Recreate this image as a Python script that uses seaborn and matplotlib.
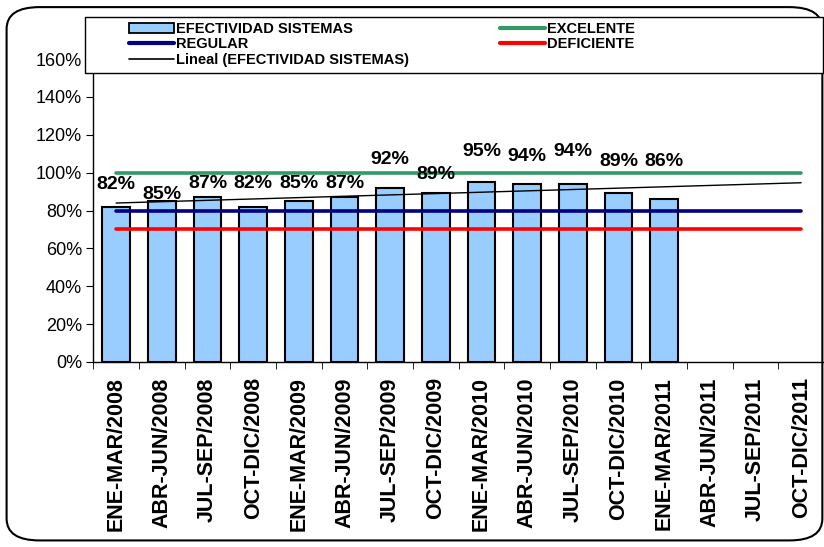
import numpy as np
import pandas as pd
import matplotlib
matplotlib.use('Agg')
import matplotlib.pyplot as plt
import seaborn as sns
from matplotlib.patches import FancyBboxPatch, Rectangle, Patch
from matplotlib.lines import Line2D

# Data
periods = ['ENE-MAR/2008', 'ABR-JUN/2008', 'JUL-SEP/2008', 'OCT-DIC/2008',
           'ENE-MAR/2009', 'ABR-JUN/2009', 'JUL-SEP/2009', 'OCT-DIC/2009',
           'ENE-MAR/2010', 'ABR-JUN/2010', 'JUL-SEP/2010', 'OCT-DIC/2010',
           'ENE-MAR/2011', 'ABR-JUN/2011', 'JUL-SEP/2011', 'OCT-DIC/2011']
efectividad = [0.82, 0.85, 0.87, 0.82, 0.85, 0.87, 0.92, 0.89,
               0.95, 0.94, 0.94, 0.89, 0.86, np.nan, np.nan, np.nan]
excelente = 1.00
regular = 0.80
deficiente = 0.70

# label offsets above bars (Excel placed them unevenly)
label_offsets = [0.115, 0.035, 0.07, 0.125, 0.095, 0.075, 0.15, 0.10,
                 0.16, 0.145, 0.17, 0.17, 0.20]

df = pd.DataFrame({'periodo': periods, 'efectividad': efectividad})

sns.set_style('white')
plt.rcParams['font.family'] = ['Liberation Sans', 'DejaVu Sans']
plt.rcParams['text.color'] = 'black'
plt.rcParams['xtick.color'] = 'black'
plt.rcParams['ytick.color'] = 'black'

fig = plt.figure(figsize=(8.24, 5.47), dpi=100)
ax = fig.add_axes([93.3 / 824, 1 - 362 / 547, (824 - 93.3) / 824, 303 / 547])

sns.barplot(data=df, x='periodo', y='efectividad', order=periods,
            color='#99CCFF', edgecolor='black', linewidth=1.5,
            width=0.6, saturation=1, ax=ax)

xs = np.arange(len(periods))
ax.plot(xs, [excelente] * len(xs), color='#339966', lw=2.6, zorder=3)
ax.plot(xs, [regular] * len(xs), color='#000080', lw=2.6, zorder=3)
ax.plot(xs, [deficiente] * len(xs), color='#FF0000', lw=2.6, zorder=3)

# linear trend
vals = np.array(efectividad)
mask = ~np.isnan(vals)
coef = np.polyfit(xs[mask], vals[mask], 1)
ax.plot(xs, np.polyval(coef, xs), color='black', lw=1.0, zorder=4)

for i, v in enumerate(vals[mask]):
    ax.text(i, v + label_offsets[i], f'{v * 100:.0f}%', ha='center', va='center',
            fontsize=14, fontweight='bold', zorder=5)

ax.set_xlim(-0.5, len(periods) - 0.5)
ax.set_ylim(0, 1.6)
yt = np.arange(0, 1.61, 0.2)
ax.set_yticks(yt)
ax.set_yticklabels([f'{int(round(t * 100))}%' for t in yt], fontsize=13)
ax.set_xticks(xs)
ax.set_xticklabels(periods, rotation=90, fontsize=15.5, fontweight='bold')
ax.set_xticks(np.arange(-0.5, len(periods), 1), minor=True)
ax.tick_params(axis='x', which='major', length=0, pad=11)
ax.tick_params(axis='x', which='minor', length=5, direction='out', color='black', bottom=True)
ax.tick_params(axis='y', length=5, direction='out', color='black', left=True, pad=3)
ax.set_xlabel('')
ax.set_ylabel('')
for s in ['top', 'right']:
    ax.spines[s].set_visible(False)
for s in ['left', 'bottom']:
    ax.spines[s].set_color('black')
    ax.spines[s].set_linewidth(1.0)

# legend frame
fig.patches.append(Rectangle((85 / 824, 1 - 73 / 547), (823 - 85) / 824, 56 / 547,
                             transform=fig.transFigure, facecolor='white',
                             edgecolor='black', lw=1.0, zorder=10))

leg_kw = dict(loc='upper left', frameon=False, prop={'weight': 'bold', 'size': 10.5},
              handlelength=3.1, handleheight=0.7, labelspacing=0.1, borderpad=0,
              handletextpad=0.15, borderaxespad=0)
leg1 = fig.legend([Patch(facecolor='#99CCFF', edgecolor='black', lw=1.3),
                   Line2D([], [], color='#000080', lw=3),
                   Line2D([], [], color='black', lw=1.2)],
                  ['EFECTIVIDAD SISTEMAS', 'REGULAR', 'Lineal (EFECTIVIDAD SISTEMAS)'],
                  bbox_to_anchor=(129 / 824, 1 - 22 / 547), **leg_kw)
leg2 = fig.legend([Line2D([], [], color='#339966', lw=3),
                   Line2D([], [], color='#FF0000', lw=3)],
                  ['EXCELENTE', 'DEFICIENTE'],
                  bbox_to_anchor=(500 / 824, 1 - 22 / 547), **leg_kw)
leg1.set_zorder(11)
leg2.set_zorder(11)

border = FancyBboxPatch((0.008, 0.012), 0.99, 0.975, transform=fig.transFigure,
                        boxstyle='round,pad=0,rounding_size=0.04',
                        facecolor='none', edgecolor='black', lw=1.5)
fig.patches.append(border)

fig.savefig('out.png', dpi=100)
